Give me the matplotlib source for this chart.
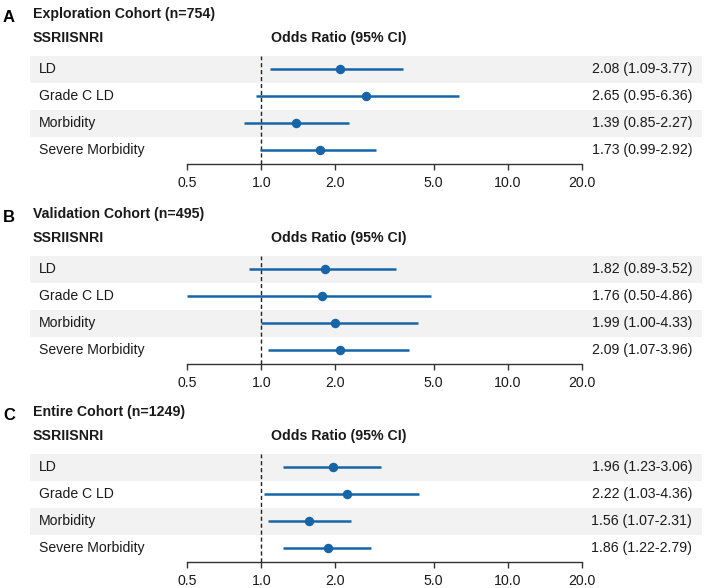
import matplotlib
matplotlib.use("Agg")
import matplotlib.pyplot as plt
import numpy as np

plt.rcParams['font.family'] = ['Liberation Sans', 'DejaVu Sans']

outcomes = ["LD", "Grade C LD", "Morbidity", "Severe Morbidity"]
panel_letters = ["A", "B", "C"]
panel_titles = ["Exploration Cohort (n=754)", "Validation Cohort (n=495)", "Entire Cohort (n=1249)"]
group_label = "SSRIISNRI"
col_header = "Odds Ratio (95% CI)"

or_A = [2.08, 2.65, 1.39, 1.73]
lo_A = [1.09, 0.95, 0.85, 0.99]
hi_A = [3.77, 6.36, 2.27, 2.92]

or_B = [1.82, 1.76, 1.99, 2.09]
lo_B = [0.89, 0.50, 1.00, 1.07]
hi_B = [3.52, 4.86, 4.33, 3.96]

or_C = [1.96, 2.22, 1.56, 1.86]
lo_C = [1.23, 1.03, 1.07, 1.22]
hi_C = [3.06, 4.36, 2.31, 2.79]

xticks = [0.5, 1.0, 2.0, 5.0, 10.0, 20.0]
xtick_labels = ["0.5", "1.0", "2.0", "5.0", "10.0", "20.0"]

panels = [(or_A, lo_A, hi_A), (or_B, lo_B, hi_B), (or_C, lo_C, hi_C)]

W, H = 709, 588
fig = plt.figure(figsize=(W / 100, H / 100), dpi=100)

BLUE = "#1565a8"
STRIPE = "#f2f2f2"
AX_COL = "#333333"
TXT = "#1a1a1a"

# pixel layout
ax_left_px, ax_right_px = 30, 702
x05_px, x20_px = 187, 582
ppd = (x20_px - x05_px) / np.log10(20 / 0.5)
xmin = 0.5 / 10 ** ((x05_px - ax_left_px) / ppd)
xmax = 20 * 10 ** ((ax_right_px - x20_px) / ppd)
offsets = [0, 200, 398]
row_h = 27.0


def fx(px):
    return px / W


def fy(py):
    return 1 - py / H


for p, (vals, los, his) in enumerate(panels):
    off = offsets[p]
    top_px = 69 + off - row_h / 2
    bot_px = 164 + off
    ax = fig.add_axes([fx(ax_left_px), fy(bot_px), (ax_right_px - ax_left_px) / W, (bot_px - top_px) / H])
    n = len(outcomes)
    ylow = -0.5 + (bot_px - top_px) / row_h
    ax.set_xscale("log")
    ax.set_xlim(xmin, xmax)
    ax.set_ylim(ylow, -0.5)
    for i in range(n):
        if i % 2 == 0:
            ax.axhspan(i - 0.5, i + 0.5, color=STRIPE, lw=0, zorder=0)
    ax.axvline(1.0, color="#222222", ls=(0, (3, 2)), lw=1.0, zorder=1)
    y = np.arange(n)
    ax.hlines(y, los, his, color=BLUE, lw=1.8, zorder=2)
    ax.plot(vals, y, "o", color=BLUE, ms=5.8, zorder=3)
    for i in range(n):
        ax.text((39 - ax_left_px) / (ax_right_px - ax_left_px), i, outcomes[i],
                transform=ax.get_yaxis_transform(), ha="left", va="center", fontsize=10.1, color=TXT)
        ax.text((692 - ax_left_px) / (ax_right_px - ax_left_px), i,
                f"{vals[i]:.2f} ({los[i]:.2f}-{his[i]:.2f})",
                transform=ax.get_yaxis_transform(), ha="right", va="center", fontsize=10.2, color=TXT)
    for s in ["top", "left", "right"]:
        ax.spines[s].set_visible(False)
    ax.spines["bottom"].set_bounds(xticks[0], xticks[-1])
    ax.spines["bottom"].set_color(AX_COL)
    ax.spines["bottom"].set_linewidth(1.0)
    ax.set_yticks([])
    ax.set_xticks(xticks)
    ax.set_xticklabels(xtick_labels)
    ax.xaxis.set_minor_locator(matplotlib.ticker.NullLocator())
    ax.tick_params(axis="x", length=4.5, width=1.0, color=AX_COL, labelsize=10.2, pad=4, labelcolor=TXT)
    ax.patch.set_visible(False)

    fig.text(fx(3), fy(17 + off), panel_letters[p], fontsize=12, fontweight="bold", ha="left", va="center")
    fig.text(fx(33), fy(14 + off), panel_titles[p], fontsize=10.2, fontweight="bold", ha="left", va="center", color=TXT)
    fig.text(fx(33), fy(38 + off), group_label, fontsize=10.2, fontweight="bold", ha="left", va="center", color=TXT)
    fig.text(fx(271), fy(38 + off), col_header, fontsize=10.2, fontweight="bold", ha="left", va="center", color=TXT)

fig.savefig("out.png", dpi=100)
